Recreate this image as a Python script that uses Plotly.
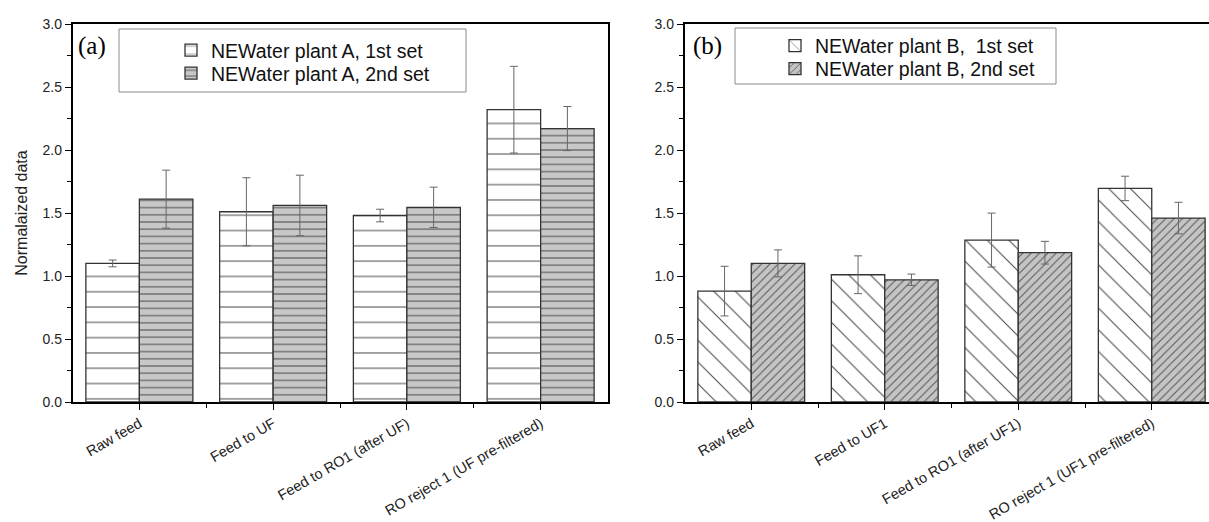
import plotly.graph_objects as go

# ---- data ----
categories_a = ["Raw feed", "Feed to UF", "Feed to RO1 (after UF)", "RO reject 1 (UF pre-filtered)"]
categories_b = ["Raw feed", "Feed to UF1", "Feed to RO1 (after UF1)", "RO reject 1 (UF1 pre-filtered)"]

plant_a_1st = [1.10, 1.51, 1.48, 2.32]
plant_a_1st_err = [0.027, 0.27, 0.05, 0.344]
plant_a_2nd = [1.61, 1.56, 1.545, 2.17]
plant_a_2nd_err = [0.23, 0.24, 0.16, 0.175]

plant_b_1st = [0.88, 1.01, 1.285, 1.695]
plant_b_1st_err = [0.197, 0.15, 0.214, 0.097]
plant_b_2nd = [1.10, 0.97, 1.185, 1.46]
plant_b_2nd_err = [0.107, 0.045, 0.09, 0.125]

names = ["NEWater plant A, 1st set", "NEWater plant A, 2nd set",
         "NEWater plant B,  1st set", "NEWater plant B, 2nd set"]
y_ticks = [0.0, 0.5, 1.0, 1.5, 2.0, 2.5, 3.0]

# ---- geometry helpers (pixels -> paper) ----
W, H = 1209, 522
MT, MB = 24, 120
PH = H - MT - MB


def px(x):
    return x / W


def py(y):
    return 1 - (y - MT) / PH


FONT = "Liberation Sans, Arial, sans-serif"
err_style = dict(type="data", color="#666666", thickness=1, width=4)
outline = dict(color="#333333", width=1.3)

xa = list(range(len(categories_a)))
xb = list(range(len(categories_b)))

fig = go.Figure()

fig.add_trace(go.Bar(
    x=xa, y=plant_a_1st, name=names[0], xaxis="x", yaxis="y", legend="legend2",
    error_y=dict(array=plant_a_1st_err, **err_style),
    marker=dict(color="white", line=outline,
                pattern=dict(shape="-", size=15.3, solidity=0.07,
                             fgcolor="#555555", bgcolor="white", fillmode="replace")),
))
fig.add_trace(go.Bar(
    x=xa, y=plant_a_2nd, name=names[1], xaxis="x", yaxis="y", legend="legend3",
    error_y=dict(array=plant_a_2nd_err, **err_style),
    marker=dict(color="#c8c8c8", line=outline,
                pattern=dict(shape="-", size=7.2, solidity=0.14,
                             fgcolor="#4a4a4a", bgcolor="#c8c8c8", fillmode="replace")),
))
fig.add_trace(go.Bar(
    x=xb, y=plant_b_1st, name=names[2], xaxis="x2", yaxis="y2", legend="legend4",
    error_y=dict(array=plant_b_1st_err, **err_style),
    marker=dict(color="white", line=outline,
                pattern=dict(shape="\\", size=15.3, solidity=0.065,
                             fgcolor="#444444", bgcolor="white", fillmode="replace")),
))
fig.add_trace(go.Bar(
    x=xb, y=plant_b_2nd, name=names[3], xaxis="x2", yaxis="y2", legend="legend5",
    error_y=dict(array=plant_b_2nd_err, **err_style),
    marker=dict(color="#c4c4c4", line=outline,
                pattern=dict(shape="/", size=5.9, solidity=0.17,
                             fgcolor="#555555", bgcolor="#c4c4c4", fillmode="replace")),
))

axis_common = dict(showline=True, linecolor="black", linewidth=1.5, showgrid=False,
                   zeroline=False, ticks="outside", ticklen=6, tickwidth=1.2, automargin=False,
                   tickcolor="black", tickfont=dict(family=FONT, size=14, color="#222222"))

x_common = dict(axis_common, tickangle=-30, tickfont=dict(family=FONT, size=14.5, color="#222222"),
                minor=dict(tickvals=[0.5, 1.5, 2.5], ticks="outside", ticklen=4,
                           tickwidth=1.2, tickcolor="black"))
y_common = dict(axis_common, range=[0, 3], tickvals=y_ticks, tickformat=".1f",
                minor=dict(dtick=0.25, tick0=0, ticks="outside", ticklen=4,
                           tickwidth=1.2, tickcolor="black"))

legend_common = dict(xanchor="left", yanchor="top", bgcolor="rgba(0,0,0,0)", borderwidth=0,
                     font=dict(family=FONT, size=19.5, color="#111111"))

fig.update_layout(
    width=W, height=H,
    margin=dict(l=0, r=0, t=MT, b=MB, pad=0, autoexpand=False),
    paper_bgcolor="white", plot_bgcolor="white",
    font=dict(family=FONT, size=14, color="#222222"),
    barmode="group", bargap=0.2, bargroupgap=0,
    xaxis=dict(x_common, domain=[px(72.5), px(607.5)], range=[-0.5, 3.5],
               tickvals=xa, ticktext=categories_a, anchor="y", mirror=True),
    yaxis=dict(y_common, domain=[0, 1], anchor="x", mirror=True,
               title=dict(text="Normalaized data", font=dict(family=FONT, size=16, color="#222222"),
                          standoff=11)),
    xaxis2=dict(x_common, domain=[px(684.5), 1.0], range=[-0.5, 3.5 - 9.5 / 133.5],
                tickvals=xb, ticktext=categories_b, anchor="y2", mirror=True),
    yaxis2=dict(y_common, domain=[0, 1], anchor="x2", mirror=False),
    legend2=dict(legend_common, x=px(171), y=py(31)),
    legend3=dict(legend_common, x=px(171), y=py(54)),
    legend4=dict(legend_common, x=px(775), y=py(26.5)),
    legend5=dict(legend_common, x=px(775), y=py(49.5)),
    shapes=[
        dict(type="rect", xref="paper", yref="paper", x0=px(119), x1=px(466), y0=py(92), y1=py(29),
             line=dict(color="#8a8a8a", width=1), fillcolor="rgba(0,0,0,0)", layer="below"),
        dict(type="rect", xref="paper", yref="paper", x0=px(735), x1=px(1056), y0=py(84), y1=py(28),
             line=dict(color="#8a8a8a", width=1), fillcolor="rgba(0,0,0,0)", layer="below"),
    ],
    annotations=[
        dict(text="(a)", xref="paper", yref="paper", x=px(76), y=py(30), xanchor="left", yanchor="top",
             showarrow=False, font=dict(family="Liberation Serif, Times New Roman, serif", size=25, color="black")),
        dict(text="(b)", xref="paper", yref="paper", x=px(691), y=py(30), xanchor="left", yanchor="top",
             showarrow=False, font=dict(family="Liberation Serif, Times New Roman, serif", size=25, color="black")),
    ],
)

fig.write_html("out.html")
